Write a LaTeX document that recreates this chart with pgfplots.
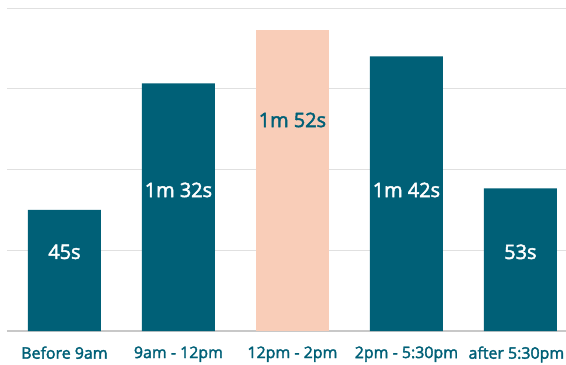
\documentclass[border=0pt]{standalone}
\usepackage{pgfplots}
\pgfplotsset{compat=1.18}
\usepackage{fontspec}
\setmainfont{Open Sans}
\newfontfamily\semib{Open Sans}[FakeBold=2.2]
\definecolor{teal1}{HTML}{006077}
\definecolor{peach}{HTML}{F9CDB8}
\definecolor{gridc}{HTML}{E0E0E0}
\definecolor{basec}{HTML}{C8C8C8}
\begin{document}
\begin{tikzpicture}
\begin{axis}[
  scale only axis, width=559bp, height=323bp,
  at={(0,0)}, anchor=south west,
  xmin=-0.504, xmax=4.4, ymin=0, ymax=120,
  axis line style={draw=none},
  major tick length=0pt,
  ytick={30,60,90,120}, yticklabels={},
  ymajorgrids, grid style={gridc, line width=0.8pt},
  extra y ticks={0}, extra y tick labels={},
  extra y tick style={grid style={basec, line width=1.3pt}},
  xtick={0,1,2,3},
  xticklabels={Before 9am, 9am - 12pm, 12pm - 2pm, 2pm - 5:30pm},
  extra x ticks={4}, extra x tick labels={after 5:30pm},
  extra x tick style={xticklabel style={xshift=-4bp}},
  xticklabel style={font=\semib\fontsize{16}{18}\selectfont, text=teal1, yshift=-12bp},
  ybar, bar width=73bp, bar shift=0pt,
]
\addplot[fill=teal1, draw=none] coordinates {(0,45) (1,92) (3,102) (4,53)};
\addplot[fill=peach, draw=none] coordinates {(2,112)};
\node[font=\semib\fontsize{20}{22}\selectfont, text=white] at (axis cs:0,29.4) {45s};
\node[font=\semib\fontsize{20}{22}\selectfont, text=white] at (axis cs:1,52.4) {1m 32s};
\node[font=\semib\fontsize{20}{22}\selectfont, text=teal1] at (axis cs:2,78.4) {1m 52s};
\node[font=\semib\fontsize{20}{22}\selectfont, text=white] at (axis cs:3,52.4) {1m 42s};
\node[font=\semib\fontsize{20}{22}\selectfont, text=white] at (axis cs:4,29.4) {53s};
\end{axis}
\pgfresetboundingbox
\path (-7bp,-34bp) rectangle (559bp,331bp);
\end{tikzpicture}
\end{document}
